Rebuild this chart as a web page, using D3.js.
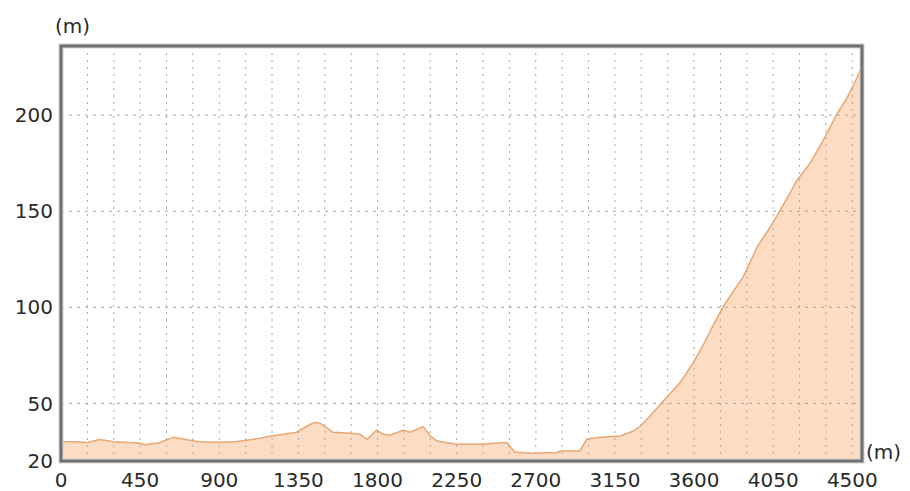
<!DOCTYPE html>
<html>
<head>
    <meta charset="utf-8">
    <style>
        body { margin: 0; background: #fff; }
        svg { display: block; font-family: 'DejaVu Sans', Verdana, sans-serif; }
        .lbl { fill: #2a2a2a; font-size: 20px; }
    </style>
</head>
<body>
    <svg width="910" height="491"></svg>

<script src="https://d3js.org/d3.v7.min.js"></script>
<script>
    // elevation profile
    const distance = [0, 80, 150, 220, 300, 440, 480, 560, 640, 780, 900, 990,
        1075, 1190, 1340, 1415, 1445, 1475, 1500, 1545, 1645, 1700, 1740, 1795,
        1830, 1870, 1945, 1985, 2060, 2100, 2140, 2250, 2380, 2535, 2580, 2670,
        2820, 2840, 2950, 2990, 3050, 3180, 3255, 3295, 3350, 3425, 3520, 3595,
        3650, 3700, 3766, 3880, 3960, 4035, 4090, 4185, 4260, 4335, 4415, 4470,
        4530, 4555]
    const elevation = [30, 30, 29.6, 31.2, 30, 29.4, 28.5, 29.5, 32.4, 30, 29.8, 30,
        31, 32.9, 35, 39, 40, 39.6, 38, 35, 34.4, 33.9, 31.3, 36,
        34, 33.4, 36, 35, 37.9, 33, 30.4, 28.7, 28.7, 29.6, 24.7, 24,
        24.4, 25.2, 25.2, 31.3, 32.2, 33, 35.6, 38.2, 43.4, 51.2, 60.7, 71.1,
        80, 89, 100.5, 116, 131.6, 142, 150.5, 166, 175, 187, 201, 209,
        220, 226]

    const xTicks = [0, 450, 900, 1350, 1800, 2250, 2700, 3150, 3600, 4050, 4500]
    const xGrid = d3.range(150, 4501, 150)
    const yTicks = [20, 50, 100, 150, 200]
    const yGrid = [50, 100, 150, 200]
    const yMin = 20, yMax = 236

    let data = distance.map((d, i) => ({d: d, e: elevation[i]}))

    let margin = {top: 46, right: 48, bottom: 30, left: 61};
    let width = 910, height = 491;

    let svg = d3.select("svg")

    let x = d3.scaleLinear()
        .domain([0, d3.max(distance)])
        .range([margin.left, width - margin.right])

    let y = d3.scaleLinear()
        .domain([yMin, yMax])
        .range([height - margin.bottom, margin.top])

    let area = d3.area()
        .x(d => x(d.d))
        .y0(y(yMin))
        .y1(d => y(d.e))

    let line = d3.line()
        .x(d => x(d.d))
        .y(d => y(d.e))

    svg.append("path")
        .datum(data)
        .attr("d", area)
        .style("fill", "#fcdcc3")

    svg.append("path")
        .datum(data)
        .attr("d", line)
        .style("fill", "none")
        .style("stroke", "#eaa673")
        .style("stroke-width", 1.5)

    // grid (drawn over the fill, like the original)
    svg.append("g")
        .selectAll("line")
        .data(xGrid)
        .join("line")
        .attr("x1", d => x(d)).attr("x2", d => x(d))
        .attr("y1", y(yMax)).attr("y2", y(yMin))
        .style("stroke", "#a9a9a9")
        .style("stroke-width", 1)
        .style("stroke-dasharray", "2,5")

    svg.append("g")
        .selectAll("line")
        .data(yGrid)
        .join("line")
        .attr("x1", x(0)).attr("x2", x(d3.max(distance)))
        .attr("y1", d => y(d)).attr("y2", d => y(d))
        .style("stroke", "#a9a9a9")
        .style("stroke-width", 1)
        .style("stroke-dasharray", "3,5")

    // frame
    svg.append("rect")
        .attr("x", x(0))
        .attr("y", y(yMax))
        .attr("width", x(d3.max(distance)) - x(0))
        .attr("height", y(yMin) - y(yMax))
        .style("fill", "none")
        .style("stroke", "#d4d4d4")
        .style("stroke-width", 5)
    svg.append("rect")
        .attr("x", x(0))
        .attr("y", y(yMax))
        .attr("width", x(d3.max(distance)) - x(0))
        .attr("height", y(yMin) - y(yMax))
        .style("fill", "none")
        .style("stroke", "#707070")
        .style("stroke-width", 3)

    // tick labels
    svg.append("g")
        .selectAll("text")
        .data(yTicks)
        .join("text")
        .attr("class", "lbl")
        .attr("x", x(0) - 8)
        .attr("y", d => y(d))
        .attr("dy", "0.36em")
        .attr("text-anchor", "end")
        .text(d => d)

    svg.append("g")
        .selectAll("text")
        .data(xTicks)
        .join("text")
        .attr("class", "lbl")
        .attr("x", d => x(d))
        .attr("y", 487)
        .attr("text-anchor", "middle")
        .text(d => d)

    svg.append("text")
        .attr("class", "lbl")
        .attr("x", 55)
        .attr("y", 33)
        .text("(m)")

    svg.append("text")
        .attr("class", "lbl")
        .attr("x", 866)
        .attr("y", 459)
        .text("(m)")
</script>
</body>
</html>
